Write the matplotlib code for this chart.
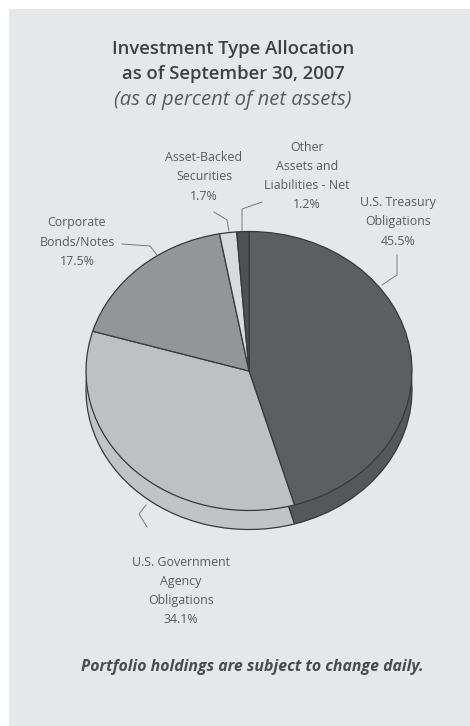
# Investment type allocation pie with a thin extruded rim

import matplotlib

matplotlib.use("Agg")
import matplotlib.pyplot as plt

WIDTH, HEIGHT = 470, 726

categories = [
    "U.S. Treasury\nObligations",
    "U.S. Government\nAgency\nObligations",
    "Corporate\nBonds/Notes",
    "Asset-Backed\nSecurities",
    "Other\nAssets and\nLiabilities - Net",
]
values = [45.5, 34.1, 17.5, 1.7, 1.2]
top_colors = ["#5d5e60", "#bfc0c2", "#939598", "#d9dadc", "#4f5052"]
side_colors = ["#56575a", "#c2c3c5", "#939598", "#d9dadc", "#4f5052"]

# label centres and leader lines, in pixels from the top left
label_pos = [(398, 222), (181, 591), (77, 242), (204, 177), (307, 176)]
leaders = [
    [(397, 255), (397, 275), (382, 285)],
    [(146, 505), (139, 514), (147, 527)],
    [(122, 244), (150, 246), (157, 255)],
    [(214, 212), (227, 220), (229, 231)],
    [(262, 202), (242, 209), (242, 231)],
]

PANEL = "#e6e7e8"
INK = "#5a5b5d"
EDGE = "#38393b"
FONT = ["Open Sans", "DejaVu Sans"]


def pie_axes(fig, cx, cy, rx, ry, pad=1.05):
    """Axes whose unit circle lands on the given pixel ellipse"""
    ax = fig.add_axes(
        [
            (cx - rx * pad) / WIDTH,
            1 - (cy + ry * pad) / HEIGHT,
            2 * rx * pad / WIDTH,
            2 * ry * pad / HEIGHT,
        ]
    )
    ax.patch.set_alpha(0)
    return ax


def draw_pie(ax, colors):
    ax.pie(
        values,
        colors=colors,
        startangle=90,
        counterclock=False,
        radius=1,
        wedgeprops={"edgecolor": EDGE, "linewidth": 0.9},
    )
    ax.set_aspect("auto")
    ax.set_xlim(-1.05, 1.05)
    ax.set_ylim(-1.05, 1.05)


fig = plt.figure(figsize=(WIDTH / 100, HEIGHT / 100), dpi=100, facecolor="white")

bg = fig.add_axes([0, 0, 1, 1])
bg.set_xlim(0, WIDTH)
bg.set_ylim(HEIGHT, 0)
bg.axis("off")
bg.add_patch(plt.Rectangle((9, 9), WIDTH - 9, HEIGHT - 9, color=PANEL, lw=0))

# rim first, then the face on top of it
draw_pie(pie_axes(fig, 249, 390, 163, 139.5), side_colors)
draw_pie(pie_axes(fig, 249, 371, 163, 139.5), top_colors)

bg.text(233, 49, "Investment Type Allocation", ha="center", va="center",
        family=FONT, weight="semibold", fontsize=13.3, color="#3f4042")
bg.text(233, 74, "as of September 30, 2007", ha="center", va="center",
        family=FONT, weight="semibold", fontsize=13.3, color="#3f4042")
bg.text(233, 100, "(as a percent of net assets)", ha="center", va="center",
        family=FONT, style="italic", fontsize=14.6, color=INK)

for name, value, (x, y), path in zip(categories, values, label_pos, leaders):
    bg.text(x, y, f"{name}\n{value}%", ha="center", va="center", ma="center",
            family=FONT, fontsize=8.9, linespacing=1.62, color=INK)
    bg.plot([p[0] for p in path], [p[1] for p in path], color="#77787a", lw=0.7)

bg.text(252, 667, "Portfolio holdings are subject to change daily.", ha="center",
        va="center", family=FONT, weight="bold", style="italic",
        fontsize=11.4, color="#4a4b4d")

fig.savefig("out.png", dpi=100)
